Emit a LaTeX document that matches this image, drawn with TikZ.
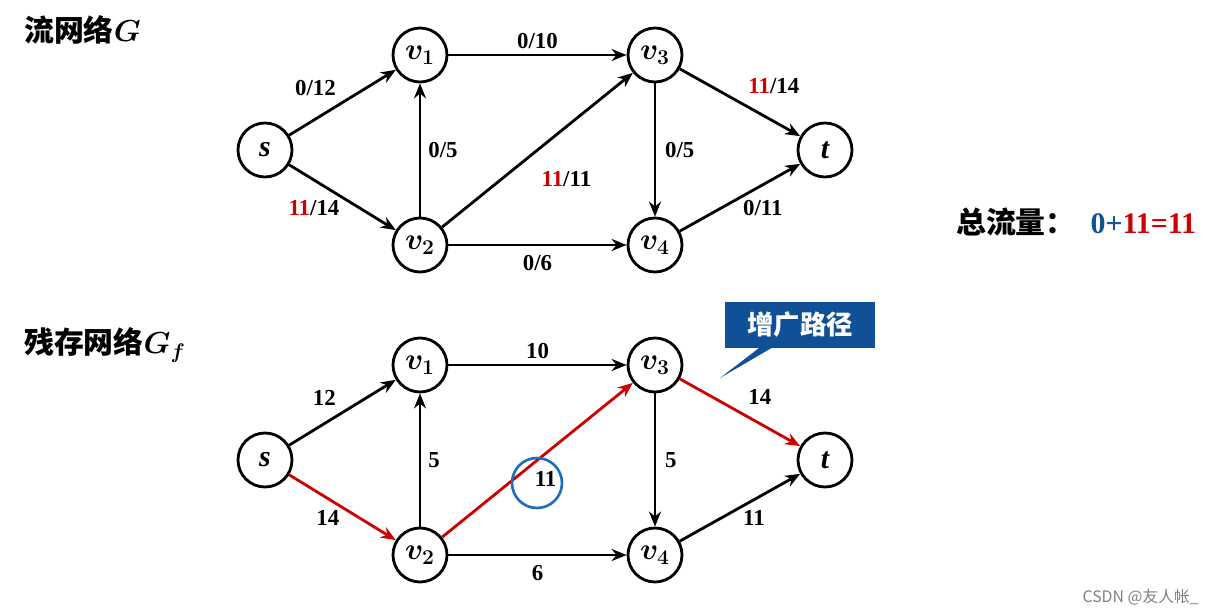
\documentclass[tikz,border=0pt]{standalone}
\usepackage{amsmath}
\usepackage{bm}
\usepackage{fontspec}
\setmainfont{Liberation Serif}
\newfontfamily\cjk{Noto Sans CJK SC}
\usetikzlibrary{arrows.meta,shapes.callouts}
\definecolor{flowred}{RGB}{204,0,0}
\definecolor{calloutblue}{RGB}{16,80,150}
\definecolor{circblue}{RGB}{30,110,190}
\begin{document}
\begin{tikzpicture}[x={(0.02cm,0)}, y={(0,-0.02cm)},
            vertex/.style = {draw, circle, line width=1.6pt, minimum size=1.08cm, inner sep=0pt, font=\fontsize{17}{17}\selectfont\bfseries\itshape},
            edge/.style = {-{Stealth[length=3mm,width=2.4mm]}, line width=1.6pt},
            redge/.style = {edge, draw=flowred},
            weight/.style = {font=\fontsize{13}{13}\selectfont\bfseries, inner sep=1pt}]
    \useasboundingbox (0,0) rectangle (1215,615);
    % flow network
    \node[vertex] (s) at (265,150) {s};
    \node[vertex] (v1) at (420,55) {$\bm{v_1}$};
    \node[vertex] (v3) at (655,55) {$\bm{v_3}$};
    \node[vertex] (t) at (825,150) {t};
    \node[vertex] (v2) at (420,245) {$\bm{v_2}$};
    \node[vertex] (v4) at (655,245) {$\bm{v_4}$};
    \draw[edge] (s) -- node[weight, above left=2pt] {0/12} (v1);
    \draw[edge] (s) -- node[weight, below left] {\textcolor{flowred}{11}/14} (v2);
    \draw[edge] (v2) -- node[weight, right=3pt] {0/5} (v1);
    \draw[edge] (v1) -- node[weight, above=2pt] {0/10} (v3);
    \draw[edge] (v2) -- node[weight, below right=6pt, pos=0.45] {\textcolor{flowred}{11}/11} (v3);
    \draw[edge] (v2) -- node[weight, below=4pt] {0/6} (v4);
    \draw[edge] (v3) -- node[weight, right=4pt] {0/5} (v4);
    \draw[edge] (v3) -- node[weight, above right=3pt] {\textcolor{flowred}{11}/14} (t);
    \draw[edge] (v4) -- node[weight, below right] {0/11} (t);
    \node[font=\cjk\bfseries\fontsize{17}{17}\selectfont, anchor=west] (title1) at (18,30) {流网络$\bm{G}$};
    \node[font=\fontsize{17}{17}\selectfont\bfseries, anchor=west] (total) at (950,222) {{\cjk 总流量：}\enspace\textcolor{calloutblue}{0+}\textcolor{flowred}{11=11}};
    % residual network
    \node[vertex] (rs) at (265,460) {s};
    \node[vertex] (rv1) at (420,365) {$\bm{v_1}$};
    \node[vertex] (rv3) at (655,365) {$\bm{v_3}$};
    \node[vertex] (rt) at (825,460) {t};
    \node[vertex] (rv2) at (420,555) {$\bm{v_2}$};
    \node[vertex] (rv4) at (655,555) {$\bm{v_4}$};
    \draw[edge] (rs) -- node[weight, above left=2pt] {12} (rv1);
    \draw[redge] (rs) -- node[weight, below left] {14} (rv2);
    \draw[edge] (rv2) -- node[weight, right=3pt] {5} (rv1);
    \draw[edge] (rv1) -- node[weight, above=2pt] {10} (rv3);
    \draw[redge] (rv2) -- node[weight, below right=1pt, pos=0.46] (res11) {11} (rv3);
    \draw[edge] (rv2) -- node[weight, below=4pt] {6} (rv4);
    \draw[edge] (rv3) -- node[weight, right=4pt] {5} (rv4);
    \draw[redge] (rv3) -- node[weight, above right=3pt] {14} (rt);
    \draw[edge] (rv4) -- node[weight, below right] {11} (rt);
    \draw[circblue, line width=1.5pt] (537,483) circle (0.5cm);
    \node[font=\cjk\bfseries\fontsize{17}{17}\selectfont, anchor=west] (title2) at (18,345) {残存网络$\bm{G_f}$};
    \node[rectangle callout, fill=calloutblue, text=white, font=\cjk\bfseries\fontsize{15}{15}\selectfont,
          minimum width=3cm, minimum height=0.92cm, callout absolute pointer={(720,378)}] (augpath) at (800,325) {增广路径};
    \node[text=gray, font=\cjk\fontsize{9}{9}\selectfont, anchor=east] (mark) at (1205,597) {CSDN @友人帐\_};
\end{tikzpicture}
\end{document}
